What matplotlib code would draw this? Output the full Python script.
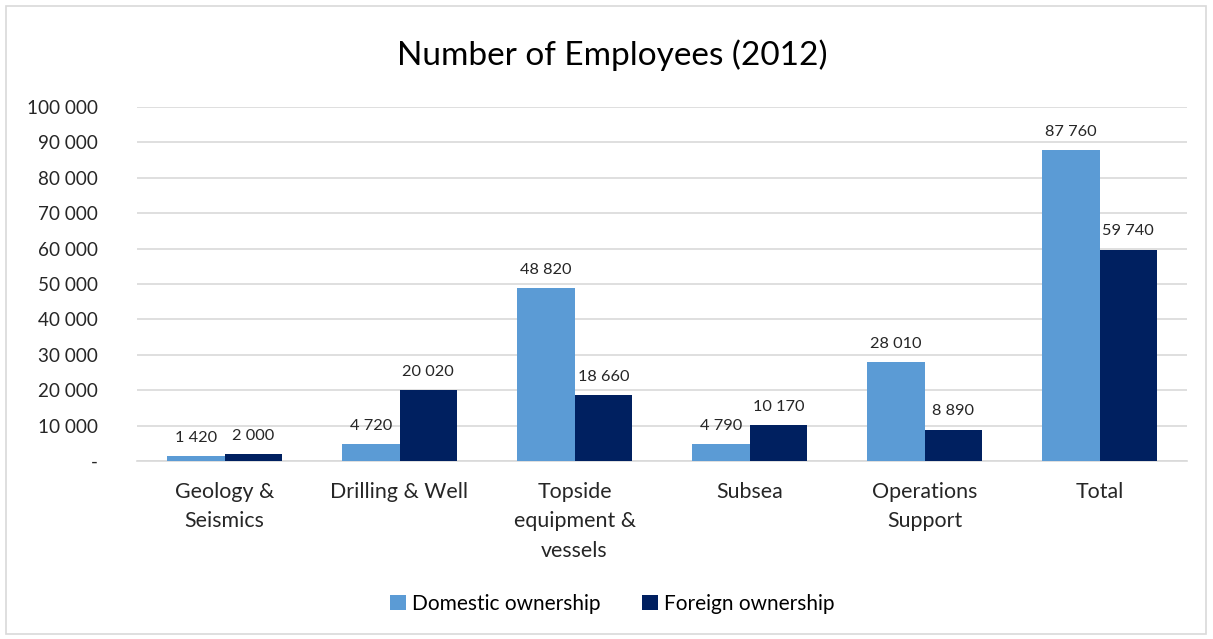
import matplotlib
matplotlib.use("Agg")
import matplotlib.pyplot as plt
from matplotlib.patches import Rectangle
import numpy as np

categories = ["Geology &\nSeismics", "Drilling & Well", "Topside\nequipment &\nvessels",
              "Subsea", "Operations\nSupport", "Total"]
domestic = [1420, 4720, 48820, 4790, 28010, 87760]
foreign = [2000, 20020, 18660, 10170, 8890, 59740]
series_names = ["Domestic ownership", "Foreign ownership"]
yticks = [0, 10000, 20000, 30000, 40000, 50000, 60000, 70000, 80000, 90000, 100000]

plt.rcParams['font.family'] = ['Lato', 'DejaVu Sans']

def fmt(v):
    return "-" if v == 0 else f"{v:,}".replace(",", " ")

fig = plt.figure(figsize=(12.13, 6.39), dpi=100)
fig.patches.append(Rectangle((0.005, 0.008), 0.989, 0.982, transform=fig.transFigure,
                             fill=False, edgecolor="#D9D9D9", linewidth=1.2))
ax = fig.add_axes([137/1213, 1 - 461/639, (1187-137)/1213, (461-107)/639])

x = np.arange(len(categories))
w = 0.33
b1 = ax.bar(x - w/2, domestic, w, color="#5B9BD5", label=series_names[0], zorder=3)
b2 = ax.bar(x + w/2, foreign, w, color="#002060", label=series_names[1], zorder=3)
for bars, vals in ((b1, domestic), (b2, foreign)):
    for r, v in zip(bars, vals):
        ax.annotate(fmt(v), (r.get_x() + r.get_width()/2, v), xytext=(0, 8),
                    textcoords="offset points", ha="center", va="bottom",
                    fontsize=11.8, color="#262626")

ax.set_xlim(-0.5, len(categories) - 0.5)
ax.set_ylim(0, 100000)
ax.set_yticks(yticks)
ax.set_yticklabels([fmt(v) for v in yticks], fontsize=13.6, color="#262626")
ax.set_xticks(x)
ax.set_xticklabels(categories, fontsize=15.4, color="#262626", linespacing=1.6, va="top")
ax.tick_params(axis="both", length=0)
ax.tick_params(axis="y", pad=28)
ax.tick_params(axis="x", pad=15)
ax.grid(axis="y", color="#D9D9D9", linewidth=1.2, zorder=0)
for s in ("top", "right", "left"):
    ax.spines[s].set_visible(False)
ax.spines["bottom"].set_color("#D9D9D9")
ax.spines["bottom"].set_linewidth(1.2)

fig.text(0.505, 1 - 55/639, "Number of Employees (2012)", ha="center", va="center",
         fontsize=24, color="#000000")
fig.legend(handles=[b1, b2], labels=series_names, loc="center", ncol=2,
           bbox_to_anchor=(0.505, 1 - 604/639), frameon=False, fontsize=15,
           handlelength=0.75, handleheight=0.75, handletextpad=0.3, columnspacing=2.0)

fig.savefig("out.png", dpi=100)
